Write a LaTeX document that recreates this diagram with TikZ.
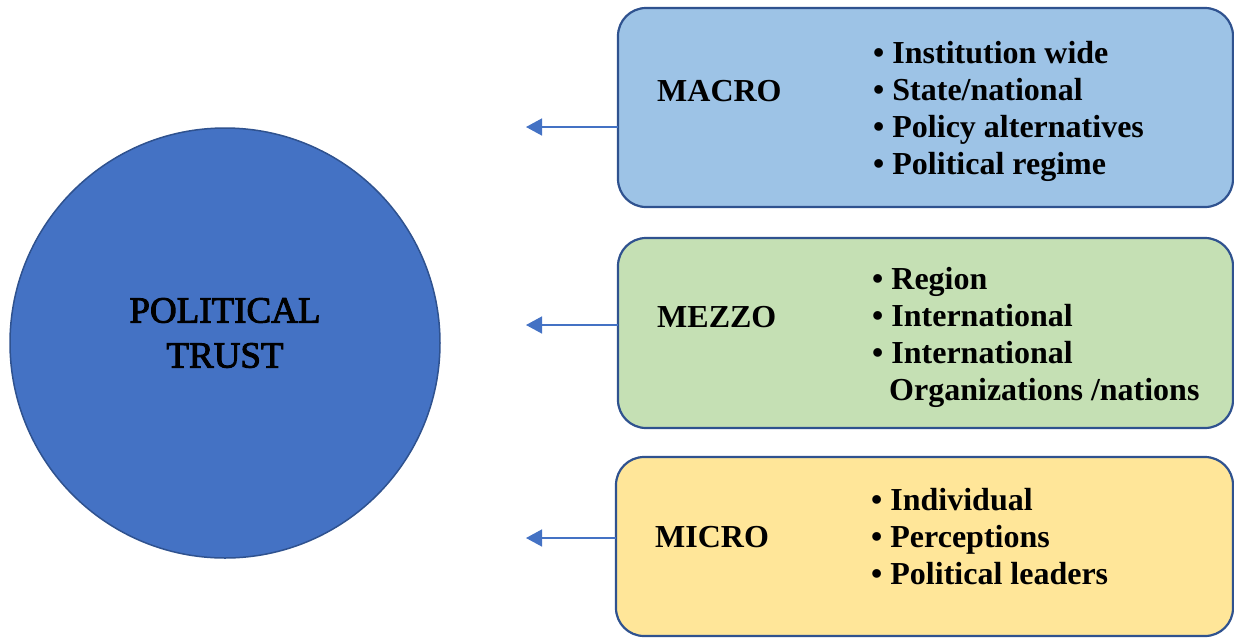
\documentclass[tikz,border=0pt]{standalone}
\usepackage{fontspec}
\setmainfont{Liberation Serif}
\newfontfamily\trustfont[FakeBold=2.5]{Liberation Serif}
\usetikzlibrary{arrows.meta}
\definecolor{trustblue}{HTML}{4472C4}
\definecolor{edgeblue}{HTML}{2F528F}
\definecolor{macrofill}{HTML}{9DC3E6}
\definecolor{mezzofill}{HTML}{C5E0B4}
\definecolor{microfill}{HTML}{FFE699}
\tikzset{
  levelbox/.style={draw=edgeblue, line width=2.2pt, rounded corners=28pt, inner sep=0pt},
  levellabel/.style={anchor=west, inner sep=0pt, font=\fontsize{32}{37}\selectfont\bfseries},
  itemlist/.style={anchor=west, inner sep=0pt, align=left, font=\fontsize{32}{37}\selectfont\bfseries},
  feedarrow/.style={draw=trustblue, line width=1.4pt, -{Triangle[length=16pt,width=17pt]}}
}
\begin{document}
\begin{tikzpicture}[x=1pt,y=-1pt]
  \useasboundingbox (0,0) rectangle (1234,638);

  % central concept
  \node[circle, draw=edgeblue, line width=1.5pt, fill=trustblue, minimum size=430pt,
        inner sep=0pt] (trust) at (225,343) {};
  \node[inner sep=0pt, align=center, font=\trustfont\fontsize{37}{45}\selectfont]
        (trustlab) at (225,333) {POLITICAL\\TRUST};

  % level boxes
  \path[levelbox, fill=macrofill] (618,8) rectangle (1233,207);
  \node[inner sep=0pt, minimum width=615pt, minimum height=199pt] (macro) at (925.5,107.5) {};
  \path[levelbox, fill=mezzofill] (618,238) rectangle (1233,428);
  \node[inner sep=0pt, minimum width=615pt, minimum height=190pt] (mezzo) at (925.5,333) {};
  \path[levelbox, fill=microfill] (616,457) rectangle (1233,636);
  \node[inner sep=0pt, minimum width=617pt, minimum height=179pt] (micro) at (924.5,546.5) {};

  % labels
  \node[levellabel] (macrolab) at (657,91) {MACRO};
  \node[levellabel] (mezzolab) at (657,317) {MEZZO};
  \node[levellabel] (microlab) at (655,537) {MICRO};

  % item lists
  \node[itemlist] (macroitems) at (873,111.5)
    {• Institution wide\\• State/national\\• Policy alternatives\\• Political regime};
  \node[itemlist] (mezzoitems) at (872,337.5)
    {• Region\\• International\\• International\\\hspace*{17pt}Organizations /nations};
  \node[itemlist] (microitems) at (871,537)
    {• Individual\\• Perceptions\\• Political leaders};

  % arrows pointing toward the concept
  \coordinate (macrotip) at (526,127);
  \coordinate (mezzotip) at (526,325);
  \coordinate (microtip) at (526,538);
  \draw[feedarrow] (macro.west |- macrotip) -- (macrotip);
  \draw[feedarrow] (mezzo.west |- mezzotip) -- (mezzotip);
  \draw[feedarrow] (micro.west |- microtip) -- (microtip);
\end{tikzpicture}
\end{document}
